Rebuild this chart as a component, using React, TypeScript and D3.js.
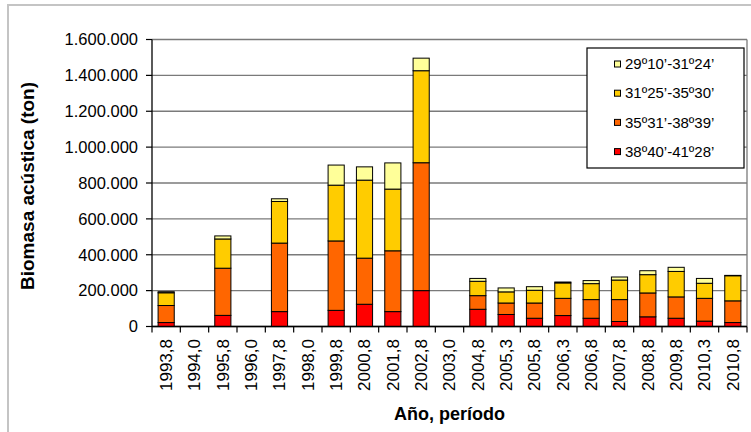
import React from "react";
import * as d3 from "d3";

const categories: string[] = [
  "1993,8", "1994,0", "1995,8", "1996,0", "1997,8", "1998,0", "1999,8",
  "2000,8", "2001,8", "2002,8", "2003,0", "2004,8", "2005,3", "2005,8",
  "2006,3", "2006,8", "2007,8", "2008,8", "2009,8", "2010,3", "2010,8",
];

// series, bottom to top (tons)
const seriesNames: string[] = ["38º40’-41º28’", "35º31’-38º39’", "31º25’-35º30’", "29º10’-31º24’"];
const seriesColors: string[] = ["#FF0000", "#FF6600", "#FFCC00", "#FFFF99"];

const s3840: number[] = [22000, 0, 62000, 0, 83000, 0, 90000, 124000, 83000, 200000, 0, 96000, 67000, 46000, 61000, 46000, 28000, 54000, 46000, 30000, 22000];
const s3531: number[] = [95000, 0, 263000, 0, 382000, 0, 387000, 257000, 339000, 713000, 0, 76000, 64000, 85000, 96000, 104000, 122000, 133000, 119000, 127000, 121000];
const s3125: number[] = [71000, 0, 163000, 0, 232000, 0, 311000, 435000, 344000, 513000, 0, 80000, 62000, 71000, 86000, 89000, 109000, 102000, 142000, 84000, 140000];
const s2910: number[] = [6000, 0, 17000, 0, 15000, 0, 112000, 74000, 146000, 70000, 0, 16000, 22000, 20000, 5000, 17000, 17000, 22000, 23000, 27000, 2000];

const yTicks: number[] = [0, 200000, 400000, 600000, 800000, 1000000, 1200000, 1400000, 1600000];

const FONT = "'Liberation Sans', Arial, sans-serif";

export default function App() {
  const left = 152, right = 747, top = 39.5, bottom = 326.5;
  const seriesData = [s3840, s3531, s3125, s2910];
  const rows = categories.map((c, i) => {
    const r: any = { cat: c };
    seriesNames.forEach((n, k) => (r[n] = seriesData[k][i]));
    return r;
  });
  const stacked = d3.stack<any>().keys(seriesNames)(rows);

  const x = d3.scaleBand<string>().domain(categories).range([left, right]).paddingInner(0.43).paddingOuter(0.215);
  const xb = d3.scaleBand<string>().domain(categories).range([left, right]);
  const y = d3.scaleLinear().domain([0, 1600000]).range([bottom, top]);

  const locale = d3.formatLocale({ decimal: ",", thousands: ".", grouping: [3], currency: ["", ""] });
  const fmt = locale.format(",");

  const boundaries = categories.map((c) => xb(c) as number).concat([right]);

  const legendOrder = [3, 2, 1, 0];
  const legX = 587, legY = 48, legW = 157, legH = 120;

  return (
    <svg width={751} height={432} style={{ position: "absolute", left: 0, top: 0, background: "#fff" }} fontFamily={FONT}>
      <rect x={0} y={0} width={751} height={432} fill="#fff" />
      {/* outer frame */}
      <rect x={8} y={5} width={770} height={460} fill="none" stroke="#c4c4c4" strokeWidth={2} />
      {/* gridlines */}
      {yTicks.map((t) => (
        <line key={"g" + t} x1={left} x2={right} y1={y(t)} y2={y(t)} stroke="#7a7a7a" strokeWidth={1.3} />
      ))}
      <line x1={right} x2={right} y1={top} y2={bottom} stroke="#7a7a7a" strokeWidth={1.3} />
      {/* bars */}
      {stacked.map((s, k) => (
        <g key={"s" + k}>
          {s.map((d, i) => {
            const h = y(d[0]) - y(d[1]);
            if (h <= 0) return null;
            return (
              <rect
                key={i}
                x={x(categories[i])}
                y={y(d[1])}
                width={x.bandwidth()}
                height={h}
                fill={seriesColors[k]}
                stroke="#000"
                strokeWidth={1}
              />
            );
          })}
        </g>
      ))}
      {/* axes */}
      <line x1={left} x2={left} y1={top} y2={bottom} stroke="#000" strokeWidth={1.3} />
      <line x1={left} x2={right} y1={bottom} y2={bottom} stroke="#000" strokeWidth={1.3} />
      {yTicks.map((t) => (
        <g key={"yt" + t}>
          <line x1={left - 6} x2={left} y1={y(t)} y2={y(t)} stroke="#000" strokeWidth={1.2} />
          <text x={138} y={y(t)} dy="0.35em" textAnchor="end" fontSize={16.5} fill="#000">
            {fmt(t)}
          </text>
        </g>
      ))}
      {boundaries.map((b, i) => (
        <line key={"xt" + i} x1={b} x2={b} y1={bottom} y2={bottom + 6} stroke="#000" strokeWidth={1.2} />
      ))}
      {categories.map((c) => {
        const cx = (xb(c) as number) + xb.bandwidth() / 2;
        return (
          <text
            key={"xl" + c}
            transform={`translate(${cx},${339}) rotate(-90)`}
            dy="0.35em"
            textAnchor="end"
            fontSize={17}
            fill="#000"
          >
            {c}
          </text>
        );
      })}
      {/* axis titles */}
      <text x={(left + right) / 2} y={420} textAnchor="middle" fontSize={18} fontWeight="bold" fill="#000">
        Año, período
      </text>
      <text transform={`translate(27,${186}) rotate(-90)`} dy="0.35em" textAnchor="middle" fontSize={19} fontWeight="bold" fill="#000">
        Biomasa acústica (ton)
      </text>
      {/* legend */}
      <rect x={legX} y={legY} width={legW} height={legH} fill="#fff" stroke="#000" strokeWidth={1.2} />
      {legendOrder.map((k, j) => {
        const cy = 64 + j * 29.2;
        return (
          <g key={"lg" + k}>
            <rect x={614.5} y={cy - 3} width={6} height={6} fill={seriesColors[k]} stroke="#000" strokeWidth={1} />
            <text x={625} y={cy} dy="0.35em" fontSize={15} fill="#000">
              {seriesNames[k]}
            </text>
          </g>
        );
      })}
    </svg>
  );
}
